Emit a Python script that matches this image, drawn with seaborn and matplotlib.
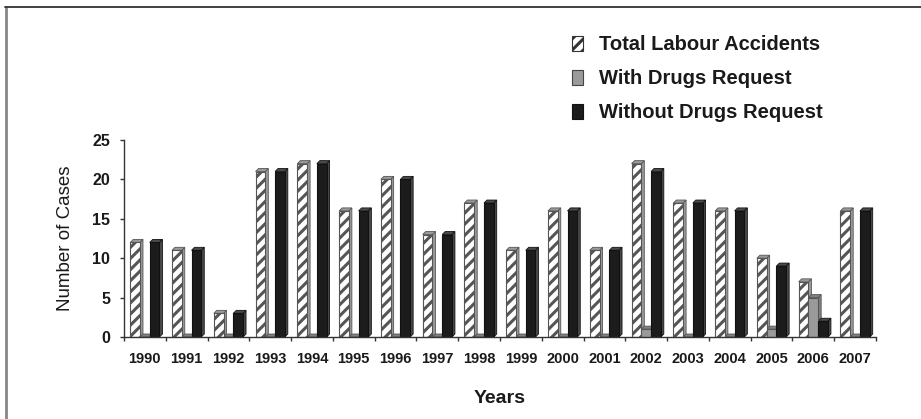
import numpy as np
import pandas as pd
import matplotlib
matplotlib.use("Agg")
import matplotlib.pyplot as plt
from matplotlib.patches import Polygon, Patch
from matplotlib.lines import Line2D
import seaborn as sns

years = [str(y) for y in range(1990, 2008)]
total_accidents = [12, 11, 3, 21, 22, 16, 20, 13, 17, 11, 16, 11, 22, 17, 16, 10, 7, 16]
with_drugs = [0, 0, 0, 0, 0, 0, 0, 0, 0, 0, 0, 0, 1, 0, 0, 1, 5, 0]
without_drugs = [12, 11, 3, 21, 22, 16, 20, 13, 17, 11, 16, 11, 21, 17, 16, 9, 2, 16]
series_names = ["Total Labour Accidents", "With Drugs Request", "Without Drugs Request"]
y_ticks = [0, 5, 10, 15, 20, 25]

df = pd.DataFrame({
    "Year": years * 3,
    "Series": np.repeat(series_names, len(years)),
    "Cases": total_accidents + with_drugs + without_drugs,
})

sns.set_theme(style="white")
plt.rcParams["font.family"] = ["Liberation Sans", "DejaVu Sans"]
plt.rcParams["hatch.linewidth"] = 2.2
plt.rcParams["hatch.color"] = "#111111"

fig = plt.figure(figsize=(9.21, 4.19), dpi=100)
ax = fig.add_axes([0.1346, 0.1957, 0.8165, 0.4702])

face_colors = ["white", "#9a9a9a", "#1c1c1c"]
side_colors = ["#9a9a9a", "#808080", "#4a4a4a"]
edge_colors = ["#555555", "#555555", "#111111"]

sns.barplot(data=df, x="Year", y="Cases", hue="Series", hue_order=series_names,
            palette=face_colors, width=0.7, saturation=1, ax=ax, legend=False,
            errorbar=None)

ax.set_ylim(0, 25)
ax.set_xlim(-0.5, len(years) - 0.5)
fig.canvas.draw()

# pixel depth of the pseudo-3D side and top faces
to_data = ax.transData.inverted()
p0 = to_data.transform((0, 0))
p1 = to_data.transform((3, 3))
dx, dy = p1[0] - p0[0], p1[1] - p0[1]

for k, cont in enumerate(ax.containers):
    for bar in cont:
        bar.set_edgecolor(edge_colors[k])
        bar.set_linewidth(0.8)
        if k == 0:
            bar.set_hatch("///")
        x0, w, h = bar.get_x(), bar.get_width(), bar.get_height()
        x1 = x0 + w
        side = Polygon([(x1, 0), (x1 + dx, dy), (x1 + dx, h + dy), (x1, h)],
                       closed=True, facecolor=side_colors[k],
                       edgecolor=edge_colors[k], linewidth=0.6, zorder=bar.get_zorder() - 0.1)
        top = Polygon([(x0, h), (x0 + dx, h + dy), (x1 + dx, h + dy), (x1, h)],
                      closed=True, facecolor=side_colors[k],
                      edgecolor=edge_colors[k], linewidth=0.6, zorder=bar.get_zorder() - 0.1)
        ax.add_patch(side)
        ax.add_patch(top)

# axes styling
for s in ["top", "right"]:
    ax.spines[s].set_visible(False)
for s in ["left", "bottom"]:
    ax.spines[s].set_color("#333333")
    ax.spines[s].set_linewidth(1.0)

ax.set_yticks(y_ticks)
ax.set_yticklabels([str(t) for t in y_ticks], fontsize=11.5, fontweight="bold", color="#1a1a1a")
ax.tick_params(axis="y", direction="out", length=3, width=1, color="#333333", pad=7, left=True)

# category boundaries carry the x tick marks; labels sit at group centres
ax.set_xticks(np.arange(len(years)))
ax.set_xticklabels(years, fontsize=10.5, fontweight="bold", color="#1a1a1a")
ax.tick_params(axis="x", length=0, pad=11)
ax.set_xticks(np.arange(len(years) + 1) - 0.5, minor=True)
ax.tick_params(axis="x", which="minor", direction="out", length=3, width=1,
               color="#333333", bottom=True)

ax.set_ylabel("Number of Cases", fontsize=13.5, color="#1a1a1a", labelpad=13)
ax.set_xlabel("Years", fontsize=14, fontweight="bold", color="#1a1a1a", labelpad=17)
ax.grid(False)

# legend
handles = [
    Patch(facecolor="white", edgecolor="#333333", hatch="///", linewidth=0.8),
    Patch(facecolor="#9a9a9a", edgecolor="#444444", linewidth=0.8),
    Patch(facecolor="#1c1c1c", edgecolor="#111111", linewidth=0.8),
]
leg = fig.legend(handles, series_names, loc="upper left", bbox_to_anchor=(0.610, 0.94),
                 frameon=False, prop={"weight": "bold", "size": 14.5},
                 handlelength=0.55, handleheight=0.75, handletextpad=0.8,
                 labelspacing=0.75, borderpad=0)
for t in leg.get_texts():
    t.set_color("#1a1a1a")

# outer frame lines (left and top)
fig.add_artist(Line2D([6 / 921, 6 / 921], [0, 1 - 7.5 / 419], transform=fig.transFigure,
                      color="#888888", linewidth=2))
fig.add_artist(Line2D([5 / 921, 1], [1 - 7.5 / 419, 1 - 7.5 / 419], transform=fig.transFigure,
                      color="#333333", linewidth=1.3))

fig.savefig("out.png", dpi=100)
